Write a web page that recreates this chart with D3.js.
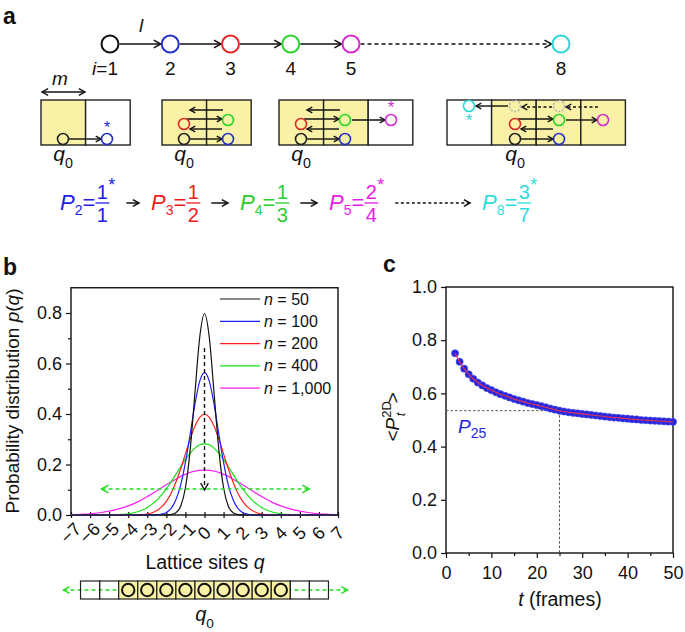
<!DOCTYPE html>
<html><head><meta charset="utf-8">
<script src="https://cdn.jsdelivr.net/npm/d3@7"></script>
<style>
body{margin:0;background:#fff}
svg{display:block}
text{font-family:"Liberation Sans",Arial,Helvetica,sans-serif;fill:#111}
</style></head>
<body><svg id="c" width="685" height="632"></svg>
<script>
// ---------------- DATA ----------------
const chainSites=[1,2,3,4,5,8];
const chainLabels=["1","2","3","4","5","8"];
const fracSites=[2,3,4,5,8];
const fracNum=[1,1,1,2,3];
const fracDen=[1,2,3,4,7];
const fracStar=[1,0,0,1,1];

const qTicks=[-7,-6,-5,-4,-3,-2,-1,0,1,2,3,4,5,6,7];
const qTickLabels=["\u22127","\u22126","\u22125","\u22124","\u22123","\u22122","\u22121","0","1","2","3","4","5","6","7"];
const qSamples=[-7,-6.5,-6,-5.5,-5,-4.5,-4,-3.5,-3,-2.75,-2.5,-2.25,-2,-1.75,-1.5,-1.25,-1,-0.75,-0.5,-0.25,0,0.25,0.5,0.75,1,1.25,1.5,1.75,2,2.25,2.5,2.75,3,3.5,4,4.5,5,5.5,6,6.5,7];
const p50=[0,0,0,0,0,0,0,0,0,0,0,0,0,0.002,0.009,0.035,0.108,0.259,0.484,0.704,0.798,0.704,0.484,0.259,0.108,0.035,0.009,0.002,0,0,0,0,0,0,0,0,0,0,0,0,0];
const p100=[0,0,0,0,0,0,0,0,0,0,0.001,0.004,0.010,0.026,0.060,0.118,0.208,0.321,0.439,0.530,0.564,0.530,0.439,0.321,0.208,0.118,0.060,0.026,0.010,0.004,0.001,0,0,0,0,0,0,0,0,0,0];
const p200=[0,0,0,0,0,0,0,0.001,0.004,0.009,0.018,0.032,0.054,0.086,0.130,0.183,0.242,0.301,0.352,0.387,0.399,0.387,0.352,0.301,0.242,0.183,0.130,0.086,0.054,0.032,0.018,0.009,0.004,0.001,0,0,0,0,0,0,0];
const p400=[0,0,0,0,0.001,0.002,0.005,0.013,0.030,0.043,0.059,0.080,0.104,0.131,0.161,0.191,0.220,0.245,0.265,0.278,0.282,0.278,0.265,0.245,0.220,0.191,0.161,0.131,0.104,0.080,0.059,0.043,0.030,0.013,0.005,0.002,0.001,0,0,0,0];
const p1000=[0.001,0.003,0.005,0.009,0.015,0.024,0.036,0.052,0.073,0.084,0.096,0.108,0.120,0.131,0.142,0.153,0.161,0.169,0.174,0.177,0.178,0.177,0.174,0.169,0.161,0.153,0.142,0.131,0.120,0.108,0.096,0.084,0.073,0.052,0.036,0.024,0.015,0.009,0.005,0.003,0.001];
const nValues=["50","100","200","400","1,000"];
const yTicksB=[0,0.2,0.4,0.6,0.8];
const yMinorB=[0.1,0.3,0.5,0.7];
const latticeSites=[-6,-5,-4,-3,-2,-1,0,1,2,3,4,5,6];
const latticeOccupied=[0,0,1,1,1,1,1,1,1,1,1,0,0];

const tFrames=[2,3,4,5,6,7,8,9,10,11,12,13,14,15,16,17,18,19,20,21,22,23,24,25,26,27,28,29,30,31,32,33,34,35,36,37,38,39,40,41,42,43,44,45,46,47,48,49,50];
const Pt=[0.751,0.719,0.693,0.672,0.655,0.641,0.630,0.620,0.612,
0.604,0.597,0.591,0.585,0.579,0.574,0.569,0.564,0.560,0.556,
0.552,0.548,0.543,0.539,0.535,0.532,0.529,0.527,0.525,0.523,
0.521,0.519,0.517,0.515,0.513,0.511,0.509,0.508,0.506,0.505,
0.503,0.502,0.500,0.499,0.498,0.497,0.496,0.495,0.494,0.493];
const tTicks=[0,10,20,30,40,50];
const tMinor=[5,15,25,35,45];
const yTicksC=[0,0.2,0.4,0.6,0.8,1.0];
const markT=25;

// ---------------- HELPERS ----------------
const svg=d3.select("#c");
const BLUE="#2330c8",RED="#e02828",GREEN="#2ad42a",MAG="#d52bd5",CYAN="#2ad6d6",YEL="#f9f1a5";
const chainColors=["#111",BLUE,RED,GREEN,MAG,CYAN];
const fracColors=["#2020e6","#ee1c1c","#2ccc2c","#e61ce6","#2fdcdc"];

function arrow(g,x1,y1,x2,y2,o){
  o=Object.assign({color:"#111",w:1.4,dash:null,head:6,both:false},o||{});
  g.append("line").attr("x1",x1).attr("y1",y1).attr("x2",x2).attr("y2",y2)
   .attr("stroke",o.color).attr("stroke-width",o.w).attr("stroke-dasharray",o.dash);
  const hd=(xa,ya,xb,yb)=>{const a=Math.atan2(yb-ya,xb-xa),s=0.5;
    g.append("path").attr("d",`M${xb-o.head*Math.cos(a-s)},${yb-o.head*Math.sin(a-s)}L${xb},${yb}L${xb-o.head*Math.cos(a+s)},${yb-o.head*Math.sin(a+s)}`)
     .attr("fill","none").attr("stroke",o.color).attr("stroke-width",o.w);};
  hd(x1,y1,x2,y2); if(o.both) hd(x2,y2,x1,y1);
}
function circ(g,x,y,r,c,o){o=o||{};
  g.append("circle").attr("cx",x).attr("cy",y).attr("r",r).attr("fill","none")
   .attr("stroke",c).attr("stroke-width",o.w||1.6).attr("stroke-dasharray",o.dash||null);}
function star(g,x,y,c,fs){g.append("text").attr("x",x).attr("y",y+fs*0.55).attr("text-anchor","middle")
   .attr("font-size",fs).style("fill",c).text("*");}
function qlabel(g,x,y,fs){const t=g.append("text").attr("x",x).attr("y",y).attr("text-anchor","middle").attr("font-size",fs);
  t.append("tspan").attr("font-style","italic").text("q");
  t.append("tspan").attr("font-size",fs*0.68).attr("dy",fs*0.33).text("0");}

// ---------------- PANEL A ----------------
const ga=svg.append("g");
ga.append("text").attr("x",3).attr("y",24).attr("font-size",23).attr("font-weight","bold").text("a");
const xChain=d3.scaleLinear().domain([1,5,8]).range([110,351,561]);
const yChain=44, rC=8.5;
chainSites.forEach((s,i)=>{
  if(i>0){const x0=xChain(chainSites[i-1])+rC+1,x1=xChain(s)-rC-1;
    arrow(ga,x0,yChain,x1,yChain,{dash:s-chainSites[i-1]>1?"4,3":null,head:8,w:1.5});}
});
chainSites.forEach((s,i)=>circ(ga,xChain(s),yChain,rC,chainColors[i],{w:2}));
chainSites.forEach((s,i)=>{
  const t=ga.append("text").attr("x",xChain(s)-(i===0?5:0)).attr("y",75).attr("text-anchor","middle").attr("font-size",19);
  if(i===0){t.append("tspan").attr("font-style","italic").text("i");t.append("tspan").text("=");}
  t.append("tspan").text(chainLabels[i]);
});
ga.append("text").attr("x",139).attr("y",32).attr("font-size",19).attr("font-style","italic").text("l");
ga.append("text").attr("x",60).attr("y",85).attr("font-size",19).attr("font-style","italic").attr("text-anchor","middle").text("m");
arrow(ga,42,92,85,92,{both:true,head:7,w:1.4});

// boxes
const cw=44.6, bt=100, bh=45;
const boxes=[{x:41,cells:[1,0]},{x:162,cells:[1,1]},{x:279,cells:[1,1,0]},{x:447,cells:[0,1,1,1]}];
boxes.forEach(b=>{
  b.cells.forEach((f,k)=>ga.append("rect").attr("x",b.x+k*cw).attr("y",bt).attr("width",cw).attr("height",bh)
    .attr("fill",f?YEL:"#fff").attr("stroke","#222").attr("stroke-width",1.4));
});
// box 1
arrow(ga,69,139,101,139,{head:6});
circ(ga,63,139,5.5,"#222"); circ(ga,107,139,5.5,BLUE); star(ga,107,124,BLUE,17);
// box 2
[[223,110,190,110],[187,119,222,119],[222,129,190,129],[190,139,222,139]].forEach(a=>arrow(ga,a[0],a[1],a[2],a[3],{head:6}));
circ(ga,184,124,5.5,RED);circ(ga,228,120,5.5,GREEN);circ(ga,184,139,5.5,"#222");circ(ga,228,139,5.5,BLUE);
// box 3
[[340,110,307,110],[304,119,339,119],[339,129,307,129],[307,139,339,139],[352,120,385,120]].forEach(a=>arrow(ga,a[0],a[1],a[2],a[3],{head:6}));
circ(ga,301,124,5.5,RED);circ(ga,345,120,5.5,GREEN);circ(ga,301,139,5.5,"#222");circ(ga,345,139,5.5,BLUE);
circ(ga,391,120,5.5,MAG); star(ga,391,104,MAG,17);
// box 4
arrow(ga,508,106,476,106,{head:6});
arrow(ga,552,107,522,107,{head:6,dash:"3,2.5"});
arrow(ga,598,107,566,107,{head:6,dash:"3,2.5"});
[[518,119,553,119],[553,129,521,129],[521,139,553,139],[566,120,597,120]].forEach(a=>arrow(ga,a[0],a[1],a[2],a[3],{head:6}));
circ(ga,469,106,5.5,CYAN); star(ga,469,117,CYAN,17);
circ(ga,515,106,5.5,"#b5b5b5",{dash:"2,1.6"});circ(ga,559,106,5.5,"#b5b5b5",{dash:"2,1.6"});
circ(ga,515,124,5.5,RED);circ(ga,559,120,5.5,GREEN);circ(ga,515,139,5.5,"#222");circ(ga,559,139,5.5,BLUE);
circ(ga,603,120,5.5,MAG);
[63,184,301,515].forEach(x=>qlabel(ga,x,161,21));

// fractions row
const pStart=[60,151,240,329,482];
let fracEnds=[];
fracSites.forEach((s,i)=>{
  const c=fracColors[i];
  const t=ga.append("text").attr("x",pStart[i]).attr("y",210).attr("font-size",22).style("fill",c);
  t.append("tspan").attr("font-style","italic").text("P");
  t.append("tspan").attr("font-size",14).attr("dy",5).text(s);
  t.append("tspan").attr("dy",-5).text("=");
  const L=t.node().getComputedTextLength();
  const fx=pStart[i]+L+7;
  ga.append("text").attr("x",fx).attr("y",199).attr("text-anchor","middle").attr("font-size",20).style("fill",c).text(fracNum[i]);
  ga.append("line").attr("x1",fx-7).attr("x2",fx+7).attr("y1",203).attr("y2",203).attr("stroke",c).attr("stroke-width",1.3);
  ga.append("text").attr("x",fx).attr("y",222).attr("text-anchor","middle").attr("font-size",20).style("fill",c).text(fracDen[i]);
  if(fracStar[i]) star(ga,fx+9.5,181,c,18);
  fracEnds.push(fx+(fracStar[i]?14:8));
});
for(let i=0;i<fracSites.length-1;i++){
  const dashed=fracSites[i+1]-fracSites[i]>1;
  arrow(ga,fracEnds[i]+10,203,pStart[i+1]-12,203,{head:7,w:1.5,dash:dashed?"3,2.5":null});
}

// ---------------- PANEL B ----------------
const gb=svg.append("g");
gb.append("text").attr("x",3).attr("y",275).attr("font-size",23).attr("font-weight","bold").text("b");
const xb=d3.scaleLinear().domain([-7,7]).range([71,338]);
const yb=d3.scaleLinear().domain([0,0.9]).range([515,287.75]);
// axes
const ayb=gb.append("g").attr("transform","translate(71,0)").call(d3.axisLeft(yb).tickValues(yTicksB).tickFormat(d3.format(".1f")).tickSize(5).tickPadding(4));
gb.append("g").attr("transform","translate(71,0)").call(d3.axisLeft(yb).tickValues(yMinorB).tickFormat("").tickSize(3));
const axb=gb.append("g").attr("transform","translate(0,515)").call(d3.axisBottom(xb).tickValues(qTicks).tickFormat((d,i)=>qTickLabels[i]).tickSize(3));
axb.selectAll(".tick line").attr("y1",-3).attr("y2",3);
axb.selectAll(".tick text").attr("x",0).attr("y",0).attr("dy","0.35em").attr("text-anchor","middle")
   .attr("transform","translate(-1,18) rotate(-45)");
[ayb,axb].forEach(a=>{a.selectAll("text").attr("font-size",18).style("font-family",'"Liberation Sans",Arial,sans-serif').style("fill","#111");});
gb.selectAll(".domain").remove();
gb.selectAll(".tick line").attr("stroke","#111").attr("stroke-width",1.2);
gb.append("rect").attr("x",71).attr("y",yb(0.9)).attr("width",338-71).attr("height",515-yb(0.9)).attr("fill","none").attr("stroke","#111").attr("stroke-width",1.4);

// curves
const seriesB=[{v:p50,c:"#111"},{v:p100,c:"#1f1fff"},{v:p200,c:"#ff1f1f"},{v:p400,c:"#10e010"},{v:p1000,c:"#ff20ff"}];
const lineB=d3.line().x((d,i)=>xb(qSamples[i])).y(d=>yb(d)).curve(d3.curveMonotoneX);
seriesB.slice().reverse().forEach(s=>gb.append("path").attr("d",lineB(s.v)).attr("fill","none").attr("stroke",s.c).attr("stroke-width",1.2));
// arrows in plot
arrow(gb,xb(0),348,xb(0),490,{dash:"4,3",head:8,w:1.4});
arrow(gb,xb(-5.4),489,xb(5.5),489,{dash:"4,3",head:8,w:1.5,both:true,color:"#22dd22"});
// legend
seriesB.forEach((s,i)=>{
  const y=299+i*22.3;
  gb.append("line").attr("x1",220).attr("x2",260).attr("y1",y).attr("y2",y).attr("stroke",s.c).attr("stroke-width",1.2);
  const t=gb.append("text").attr("x",264).attr("y",y+5.5).attr("font-size",16);
  t.append("tspan").attr("font-style","italic").text("n");
  t.append("tspan").text(" = "+nValues[i]);
});
// axis titles
const ty=gb.append("text").attr("transform","translate(19,401) rotate(-90)").attr("text-anchor","middle").attr("font-size",19);
ty.append("tspan").text("Probability distribution ");
ty.append("tspan").attr("font-style","italic").text("p");
ty.append("tspan").text("(");
ty.append("tspan").attr("font-style","italic").text("q");
ty.append("tspan").text(")");
const tx=gb.append("text").attr("x",205).attr("y",569).attr("text-anchor","middle").attr("font-size",19.5);
tx.append("tspan").text("Lattice sites ");
tx.append("tspan").attr("font-style","italic").text("q");
// lattice
const ly=581, lh=18;
arrow(gb,xb(-7.5)+2,590,xb(7.5),590,{dash:"4,3",head:7,w:1.4,both:true,color:"#22dd22"});
latticeSites.forEach((s,i)=>{
  gb.append("rect").attr("x",xb(s-0.5)).attr("y",ly).attr("width",xb(s+0.5)-xb(s-0.5)).attr("height",lh)
    .attr("fill",latticeOccupied[i]?YEL:"none").attr("stroke","#222").attr("stroke-width",1.2);
});
latticeSites.forEach((s,i)=>{ if(latticeOccupied[i]) circ(gb,xb(s),590,6.2,"#111",{w:2}); });
qlabel(gb,xb(0),621,20);

// ---------------- PANEL C ----------------
const gc=svg.append("g");
gc.append("text").attr("x",383).attr("y",272).attr("font-size",23).attr("font-weight","bold").text("c");
const xc=d3.scaleLinear().domain([0,50]).range([446,673]);
const yc=d3.scaleLinear().domain([0,1]).range([553,287]);
const ayc=gc.append("g").attr("transform","translate(446,0)").call(d3.axisLeft(yc).tickValues(yTicksC).tickFormat(d3.format(".1f")).tickSize(5).tickPadding(4));
const axc=gc.append("g").attr("transform","translate(0,553)").call(d3.axisBottom(xc).tickValues(tTicks).tickSize(5).tickPadding(8));
gc.append("g").attr("transform","translate(0,553)").call(d3.axisBottom(xc).tickValues(tMinor).tickFormat("").tickSize(3));
[ayc,axc].forEach(a=>{a.selectAll("text").attr("font-size",18).style("font-family",'"Liberation Sans",Arial,sans-serif').style("fill","#111");});
gc.selectAll(".domain").remove();
gc.selectAll(".tick line").attr("stroke","#111").attr("stroke-width",1.2);
gc.append("rect").attr("x",446).attr("y",287).attr("width",673-446).attr("height",553-287).attr("fill","none").attr("stroke","#111").attr("stroke-width",1.4);
// guide lines
const p25=Pt[tFrames.indexOf(markT)];
gc.append("line").attr("x1",446).attr("x2",xc(markT)).attr("y1",yc(p25)).attr("y2",yc(p25)).attr("stroke","#555").attr("stroke-width",1).attr("stroke-dasharray","2.5,2");
gc.append("line").attr("x1",xc(markT)).attr("x2",xc(markT)).attr("y1",yc(p25)).attr("y2",553).attr("stroke","#555").attr("stroke-width",1).attr("stroke-dasharray","2.5,2");
// points
gc.selectAll("circle.pt").data(Pt).enter().append("circle").attr("class","pt")
  .attr("cx",(d,i)=>xc(tFrames[i])).attr("cy",d=>yc(d)).attr("r",3.6).attr("fill","#2626d8").attr("stroke","#4a4af0").attr("stroke-width",0.6);
const lineC=d3.line().x((d,i)=>xc(tFrames[i])).y(d=>yc(d)).curve(d3.curveMonotoneX);
gc.append("path").attr("d",lineC(Pt)).attr("fill","none").attr("stroke","#e8305a").attr("stroke-width",1.1);
// P25 label
const pl=gc.append("text").attr("x",458).attr("y",433).attr("font-size",19).style("fill","#2424e0");
pl.append("tspan").attr("font-style","italic").text("P");
pl.append("tspan").attr("font-size",14).attr("dy",5).text(markT);
// axis titles
const tcx=gc.append("text").attr("x",560).attr("y",606).attr("text-anchor","middle").attr("font-size",19.5);
tcx.append("tspan").attr("font-style","italic").text("t");
tcx.append("tspan").text(" (frames)");
const tcy=gc.append("text").attr("transform","translate(399,417) rotate(-90)").attr("text-anchor","middle").attr("font-size",19);
tcy.append("tspan").text("<");
tcy.append("tspan").attr("font-style","italic").text("P");
tcy.append("tspan").attr("font-size",13).attr("dy",-8).text("2D");
tcy.append("tspan").attr("font-size",13).attr("font-style","italic").attr("dx",-15).attr("dy",14).text("t");
tcy.append("tspan").attr("dx",9).attr("dy",-6).text(">");
</script></body></html>
